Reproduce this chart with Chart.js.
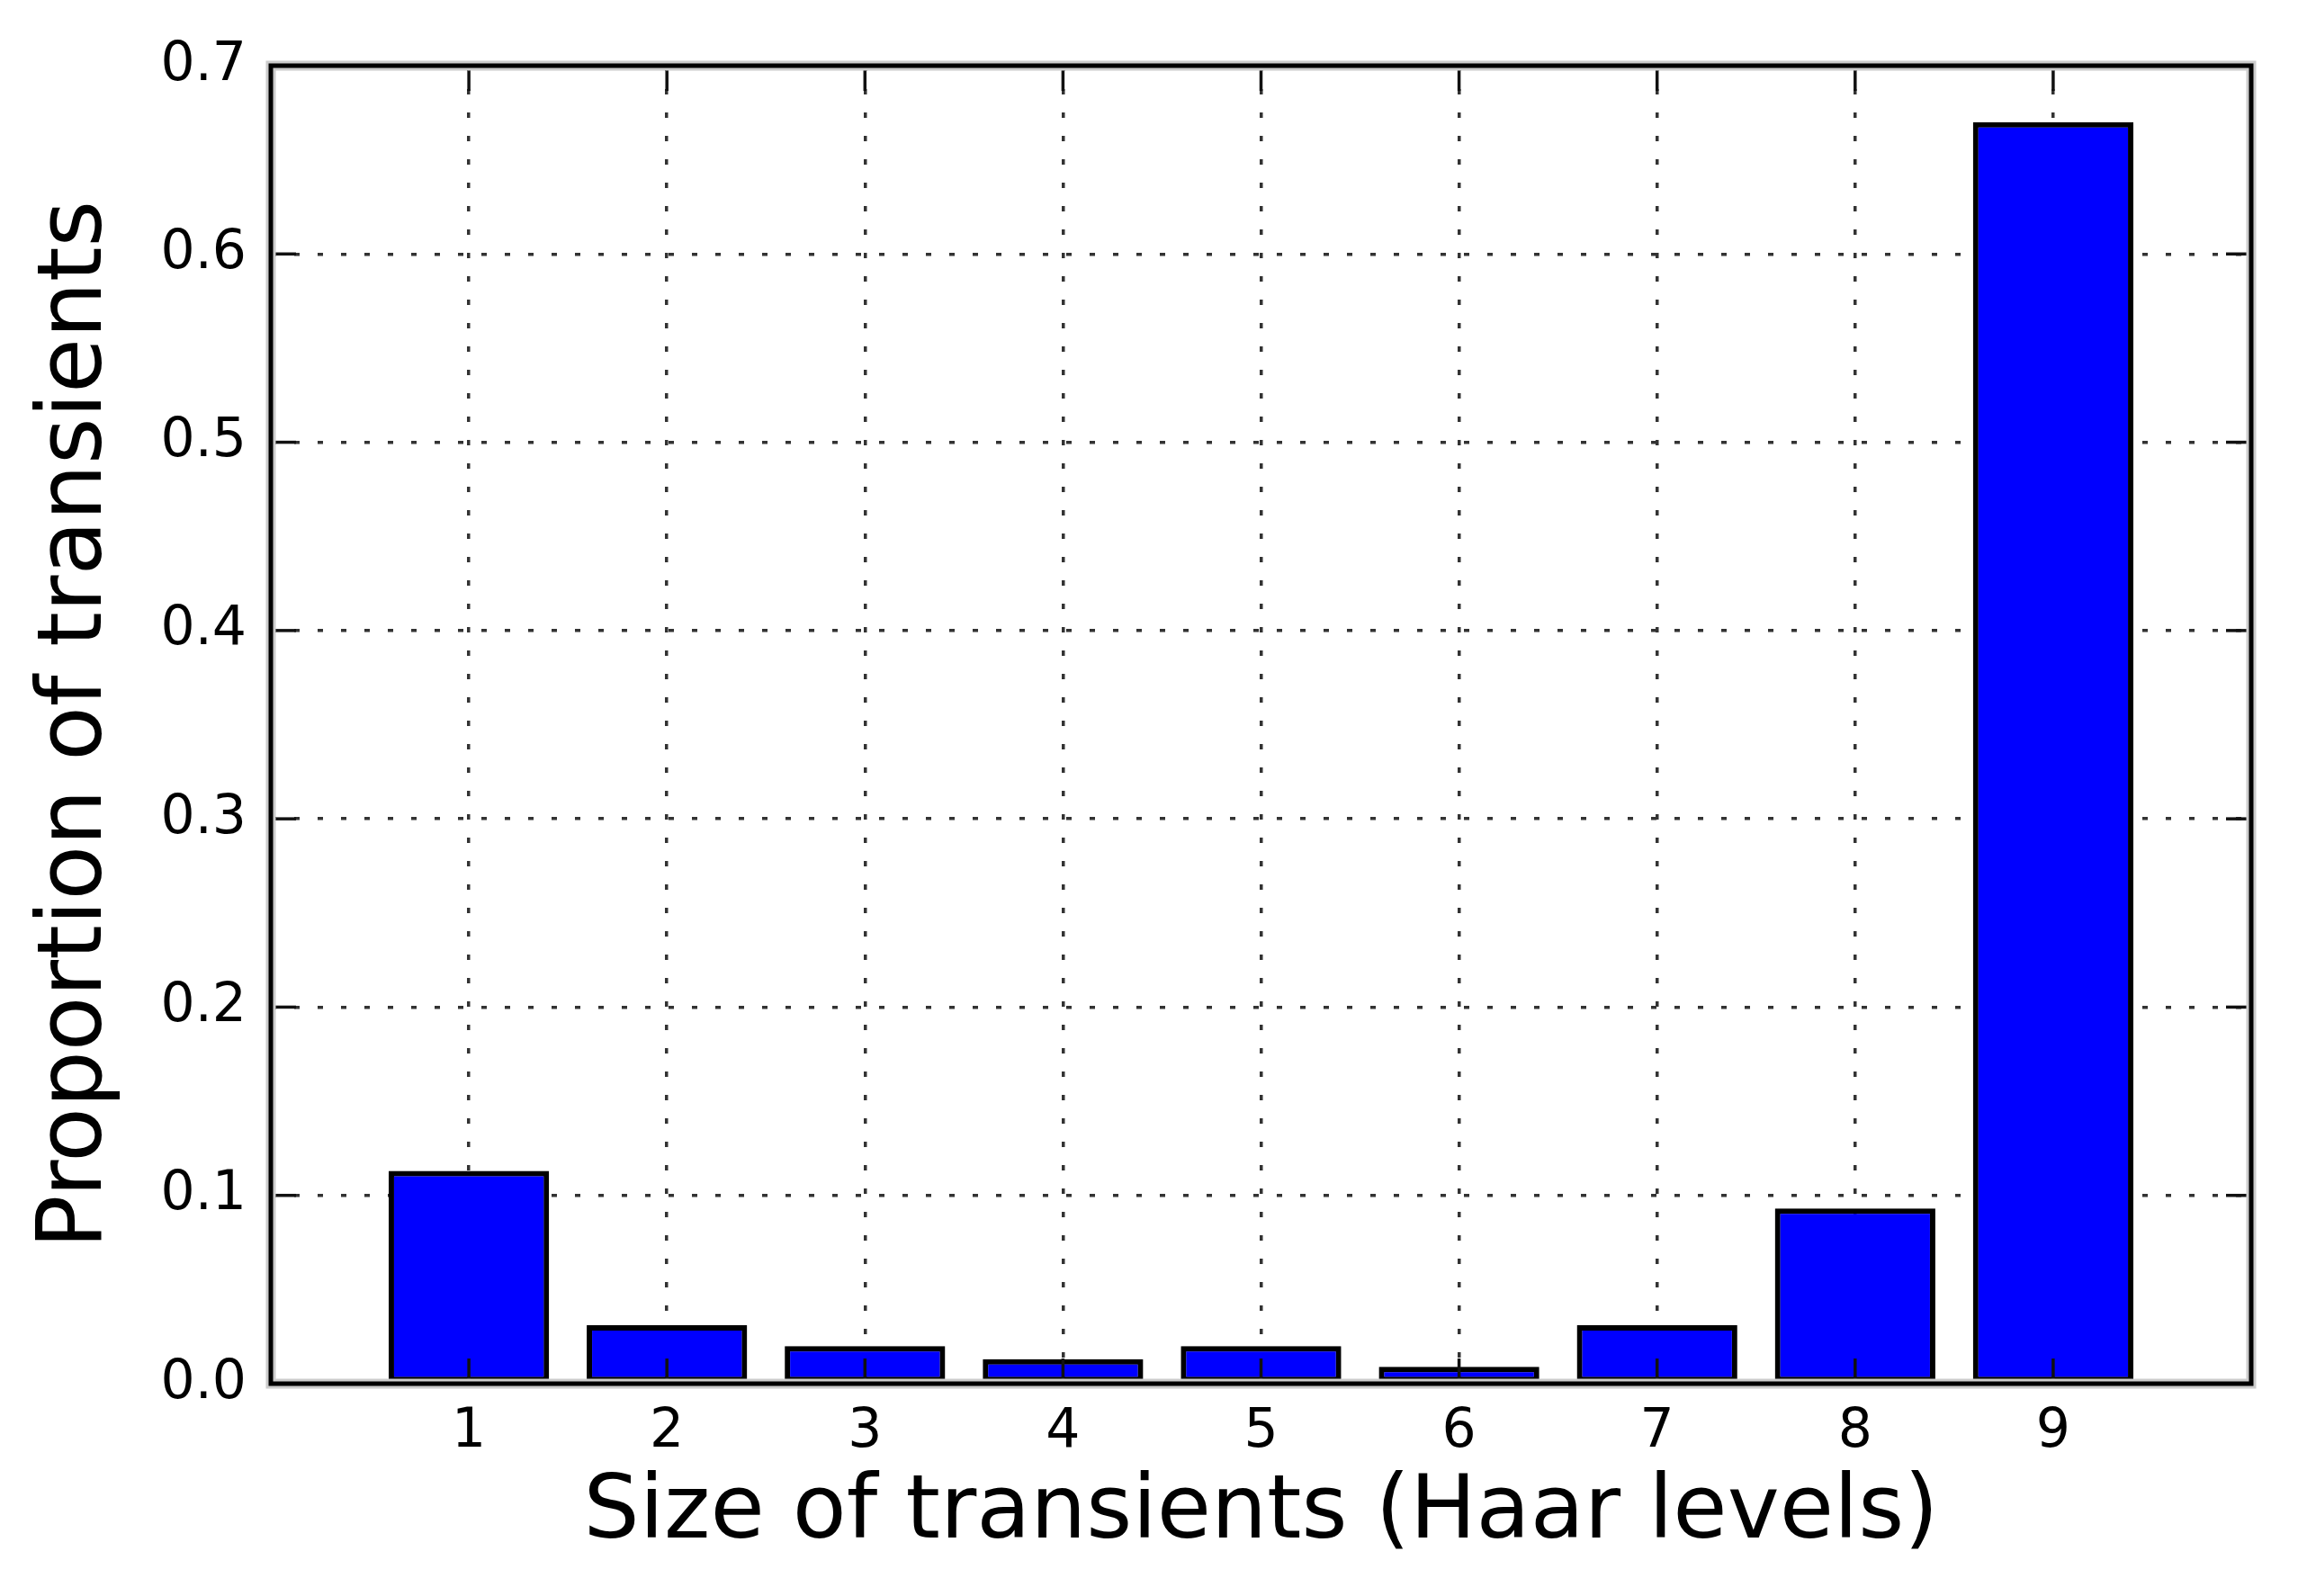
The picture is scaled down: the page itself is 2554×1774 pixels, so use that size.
<!DOCTYPE html>
<html>
<head>
<meta charset="utf-8">
<script src="https://cdn.jsdelivr.net/npm/chart.js@4"></script>
<style>
  html, body { margin: 0; padding: 0; background: #ffffff; }
  #wrap { width: 2554px; height: 1774px; }
</style>
</head>
<body>
<div id="wrap"><canvas id="c" width="2554" height="1774"></canvas></div>
<script>
// ---- data ----
const categories = [1, 2, 3, 4, 5, 6, 7, 8, 9];
const proportions = [0.113, 0.031, 0.020, 0.013, 0.020, 0.009, 0.031, 0.093, 0.670];
const xTickValues = [1, 2, 3, 4, 5, 6, 7, 8, 9];
const yTickLabels = ['0.0', '0.1', '0.2', '0.3', '0.4', '0.5', '0.6', '0.7'];
const xTitle = 'Size of transients (Haar levels)';
const yTitle = 'Proportion of transients';

const FONT = 'DejaVu Sans';

const frameAndTicks = {
  id: 'frameAndTicks',
  afterDraw(chart) {
    const { ctx, chartArea: a, scales: { x, y } } = chart;
    const L = 28;
    ctx.save();
    ctx.strokeStyle = '#111111';
    ctx.lineWidth = 3.5;
    ctx.setLineDash([]);
    const seg = (x1, y1, x2, y2) => { ctx.beginPath(); ctx.moveTo(x1, y1); ctx.lineTo(x2, y2); ctx.stroke(); };
    x.ticks.forEach(t => {
      if (!xTickValues.includes(t.value)) return;
      const px = x.getPixelForValue(t.value);
      seg(px, a.bottom, px, a.bottom - L);
      seg(px, a.top, px, a.top + L);
    });
    y.ticks.forEach(t => {
      const py = y.getPixelForValue(t.value);
      seg(a.left, py, a.left + L, py);
      seg(a.right, py, a.right - L, py);
    });
    // frame with soft halo
    ctx.strokeStyle = '#cccccc';
    ctx.lineWidth = 11;
    ctx.strokeRect(a.left, a.top, a.right - a.left, a.bottom - a.top);
    ctx.strokeStyle = '#000000';
    ctx.lineWidth = 5;
    ctx.strokeRect(a.left, a.top, a.right - a.left, a.bottom - a.top);
    ctx.restore();
  }
};

// soft grey halo around the bars, as in the reference
const barHalo = {
  id: 'barHalo',
  beforeDatasetsDraw(chart) {
    const ctx = chart.ctx;
    ctx.save();
    ctx.shadowColor = 'rgba(0,0,0,0.22)';
    ctx.shadowBlur = 4;
    ctx.shadowOffsetX = 0;
    ctx.shadowOffsetY = 0;
  },
  afterDatasetsDraw(chart) {
    chart.ctx.restore();
  }
};

new Chart(document.getElementById('c'), {
  type: 'bar',
  data: {
    datasets: [{
      data: categories.map((c, i) => ({ x: c, y: proportions[i] })),
      backgroundColor: '#0000ff',
      borderColor: '#000000',
      borderWidth: 6,
      borderSkipped: false,
      barPercentage: 0.81,
      categoryPercentage: 1.0
    }]
  },
  options: {
    responsive: false,
    devicePixelRatio: 1,
    animation: false,
    layout: { padding: { left: 0, top: 73, right: 52, bottom: 0 } },
    plugins: { legend: { display: false }, tooltip: { enabled: false } },
    scales: {
      x: {
        type: 'linear',
        min: 0,
        max: 10,
        offset: false,
        z: 1,
        afterFit(scale) { scale.height = 236; },
        ticks: {
          stepSize: 1,
          autoSkip: false,
          maxRotation: 0,
          padding: 18,
          color: '#000000',
          font: { family: FONT, size: 60 },
          callback: (v) => (xTickValues.includes(v) ? String(v) : '')
        },
        grid: {
          offset: false,
          drawTicks: false,
          color: '#333333',
          lineWidth: 3.5
        },
        border: { display: false, dash: [6, 20] },
        title: {
          display: true,
          text: xTitle,
          color: '#000000',
          font: { family: FONT, size: 98 },
          padding: { top: 0, bottom: 32 }
        }
      },
      y: {
        type: 'linear',
        min: 0,
        max: 0.7,
        z: 1,
        afterFit(scale) { scale.width = 301; },
        ticks: {
          stepSize: 0.1,
          padding: 27,
          color: '#000000',
          font: { family: FONT, size: 60 },
          callback: (v) => yTickLabels[Math.round(v * 10)]
        },
        grid: {
          drawTicks: false,
          color: '#333333',
          lineWidth: 3.5
        },
        border: { display: false, dash: [6, 20] },
        title: {
          display: true,
          text: yTitle,
          color: '#000000',
          font: { family: FONT, size: 99 },
          padding: { top: 27, bottom: 0 }
        }
      }
    }
  },
  plugins: [barHalo, frameAndTicks]
});
</script>
</body>
</html>
